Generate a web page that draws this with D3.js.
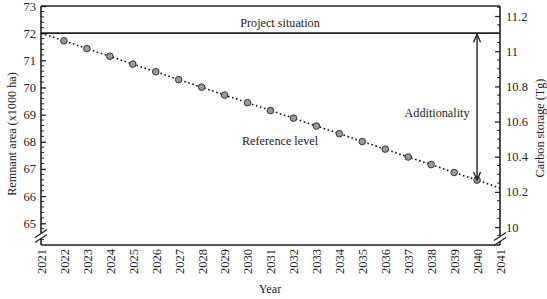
<!DOCTYPE html>
<html><head><meta charset="utf-8">
<script src="https://cdn.jsdelivr.net/npm/d3@7"></script>
<style>body{margin:0;background:#fff}svg{display:block}text{font-family:"Liberation Serif","Times New Roman",serif;fill:#222}</style>
</head><body><svg id="c" width="547" height="299"></svg>
<script>
const years = d3.range(2021, 2042);
const refYears = [2022,2023,2024,2025,2026,2027,2028,2029,2030,2031,2032,2033,2034,2035,2036,2037,2038,2039,2040];
const refArea = [71.72,71.43,71.15,70.86,70.58,70.29,70.01,69.72,69.44,69.15,68.87,68.58,68.30,68.01,67.73,67.44,67.16,66.87,66.59];
const lineStart = {year:2021, value:72};
const lineEnd = {year:2041, value:66.30};
const projectLevel = 72;
const leftTicks = [65,66,67,68,69,70,71,72,73];
const rightTicks = [10,10.2,10.4,10.6,10.8,11,11.2];

const svg = d3.select("#c");
const L=41, R=500, T=6, B=245;
const x = d3.scaleLinear().domain([2021,2041]).range([L,R]);
const y = d3.scaleLinear().domain([64.2,73]).range([B,T]);
const y2 = d3.scaleLinear().domain([9.898,11.257]).range([B,T]);
const fs = "12.2px";

// left axis
const gl = svg.append("g").attr("transform",`translate(${L},0)`);
gl.call(d3.axisRight(y).tickValues(leftTicks).tickSize(5).tickFormat(d3.format("d")));
gl.selectAll("text").attr("x",-5).attr("text-anchor","end").style("font-size","12.5px");
gl.select(".domain").remove();
gl.selectAll("line").attr("stroke","#222").attr("stroke-width",1.3);
const minorL = d3.range(64.4,73.001,0.2).filter(v=>Math.abs(v-Math.round(v))>0.01);
gl.selectAll(".mn").data(minorL).join("line").attr("x1",0).attr("x2",3).attr("y1",d=>y(d)).attr("y2",d=>y(d)).attr("stroke","#222").attr("stroke-width",1);

// right axis
const gr = svg.append("g").attr("transform",`translate(${R},0)`);
gr.call(d3.axisLeft(y2).tickValues(rightTicks).tickSize(5).tickFormat(d=>d3.format("")(+d.toFixed(1))));
gr.selectAll("text").attr("x",6).attr("text-anchor","start").style("font-size","12.5px");
gr.select(".domain").remove();
gr.selectAll("line").attr("stroke","#222").attr("stroke-width",1.3);
const minorR = d3.range(9.95,11.251,0.05).filter(v=>Math.abs(v*5-Math.round(v*5))>0.01);
gr.selectAll(".mn").data(minorR).join("line").attr("x1",0).attr("x2",-3).attr("y1",d=>y2(d)).attr("y2",d=>y2(d)).attr("stroke","#222").attr("stroke-width",1);

// x axis labels
const gx = svg.append("g").attr("transform",`translate(0,${B})`);
gx.call(d3.axisBottom(x).tickValues(years).tickSize(0).tickFormat(d3.format("d")));
gx.select(".domain").remove();
gx.selectAll("text").attr("transform","rotate(-90)").attr("x",-4).attr("y",0).attr("dy","0.35em").attr("text-anchor","end").style("font-size","12.5px");

// frame
const stroke="#222";
svg.append("line").attr("x1",L).attr("x2",R).attr("y1",T).attr("y2",T).attr("stroke",stroke).attr("stroke-width",1.6);
svg.append("line").attr("x1",L).attr("x2",R).attr("y1",B).attr("y2",B).attr("stroke",stroke).attr("stroke-width",1.6);
svg.append("line").attr("x1",L).attr("x2",L).attr("y1",T).attr("y2",B).attr("stroke",stroke).attr("stroke-width",1.6);
svg.append("line").attr("x1",R).attr("x2",R).attr("y1",T).attr("y2",B).attr("stroke",stroke).attr("stroke-width",1.6);

// breaks
function brk(cx, cy){
  svg.append("rect").attr("x",cx-3).attr("y",cy-3).attr("width",6).attr("height",5).attr("fill","#fff");
  [-2.5,2.5].forEach(o=>svg.append("line").attr("x1",cx-6).attr("y1",cy+o+4).attr("x2",cx+6).attr("y2",cy+o-4).attr("stroke",stroke).attr("stroke-width",1.3));
}
brk(L, 236);
brk(R, 239);

// project line
svg.append("line").attr("x1",L).attr("x2",R).attr("y1",y(projectLevel)).attr("y2",y(projectLevel)).attr("stroke",stroke).attr("stroke-width",1.8);

// reference dotted line
const pts=[lineStart, ...refYears.map((d,i)=>({year:d,value:refArea[i]})), lineEnd];
svg.append("path").datum(pts).attr("d",d3.line().x(d=>x(d.year)).y(d=>y(d.value))).attr("fill","none").attr("stroke","#111").attr("stroke-width",1.6).attr("stroke-dasharray","1.6,2.6");
svg.selectAll(".pt").data(refYears).join("circle").attr("cx",d=>x(d)).attr("cy",(d,i)=>y(refArea[i])).attr("r",3.3).attr("fill","#9a9a9a").attr("stroke","#333").attr("stroke-width",1);

// arrow
const ax = x(2040), ay1=y(projectLevel)+1, ay2=y(refArea[refArea.length-1]);
svg.append("line").attr("x1",ax).attr("x2",ax).attr("y1",ay1).attr("y2",ay2).attr("stroke",stroke).attr("stroke-width",1.4);
svg.append("path").attr("d",`M${ax-3.5},${ay1+8}L${ax},${ay1}L${ax+3.5},${ay1+8}`).attr("fill","none").attr("stroke",stroke).attr("stroke-width",1.4);
svg.append("path").attr("d",`M${ax-3.5},${ay2-8}L${ax},${ay2}L${ax+3.5},${ay2-8}`).attr("fill","none").attr("stroke",stroke).attr("stroke-width",1.4);

// labels
svg.append("text").attr("x",280).attr("y",27).attr("text-anchor","middle").style("font-size",fs).text("Project situation");
svg.append("text").attr("x",437).attr("y",117).attr("text-anchor","middle").style("font-size",fs).text("Additionality");
svg.append("text").attr("x",280).attr("y",145).attr("text-anchor","middle").style("font-size",fs).text("Reference level");
svg.append("text").attr("x",270).attr("y",293).attr("text-anchor","middle").style("font-size",fs).text("Year");
svg.append("text").attr("transform","translate(16,134) rotate(-90)").attr("text-anchor","middle").style("font-size",fs).text("Remnant area (x1000 ha)");
svg.append("text").attr("transform","translate(544,128) rotate(-90)").attr("text-anchor","middle").style("font-size",fs).text("Carbon storage (Tg)");
</script></body></html>
